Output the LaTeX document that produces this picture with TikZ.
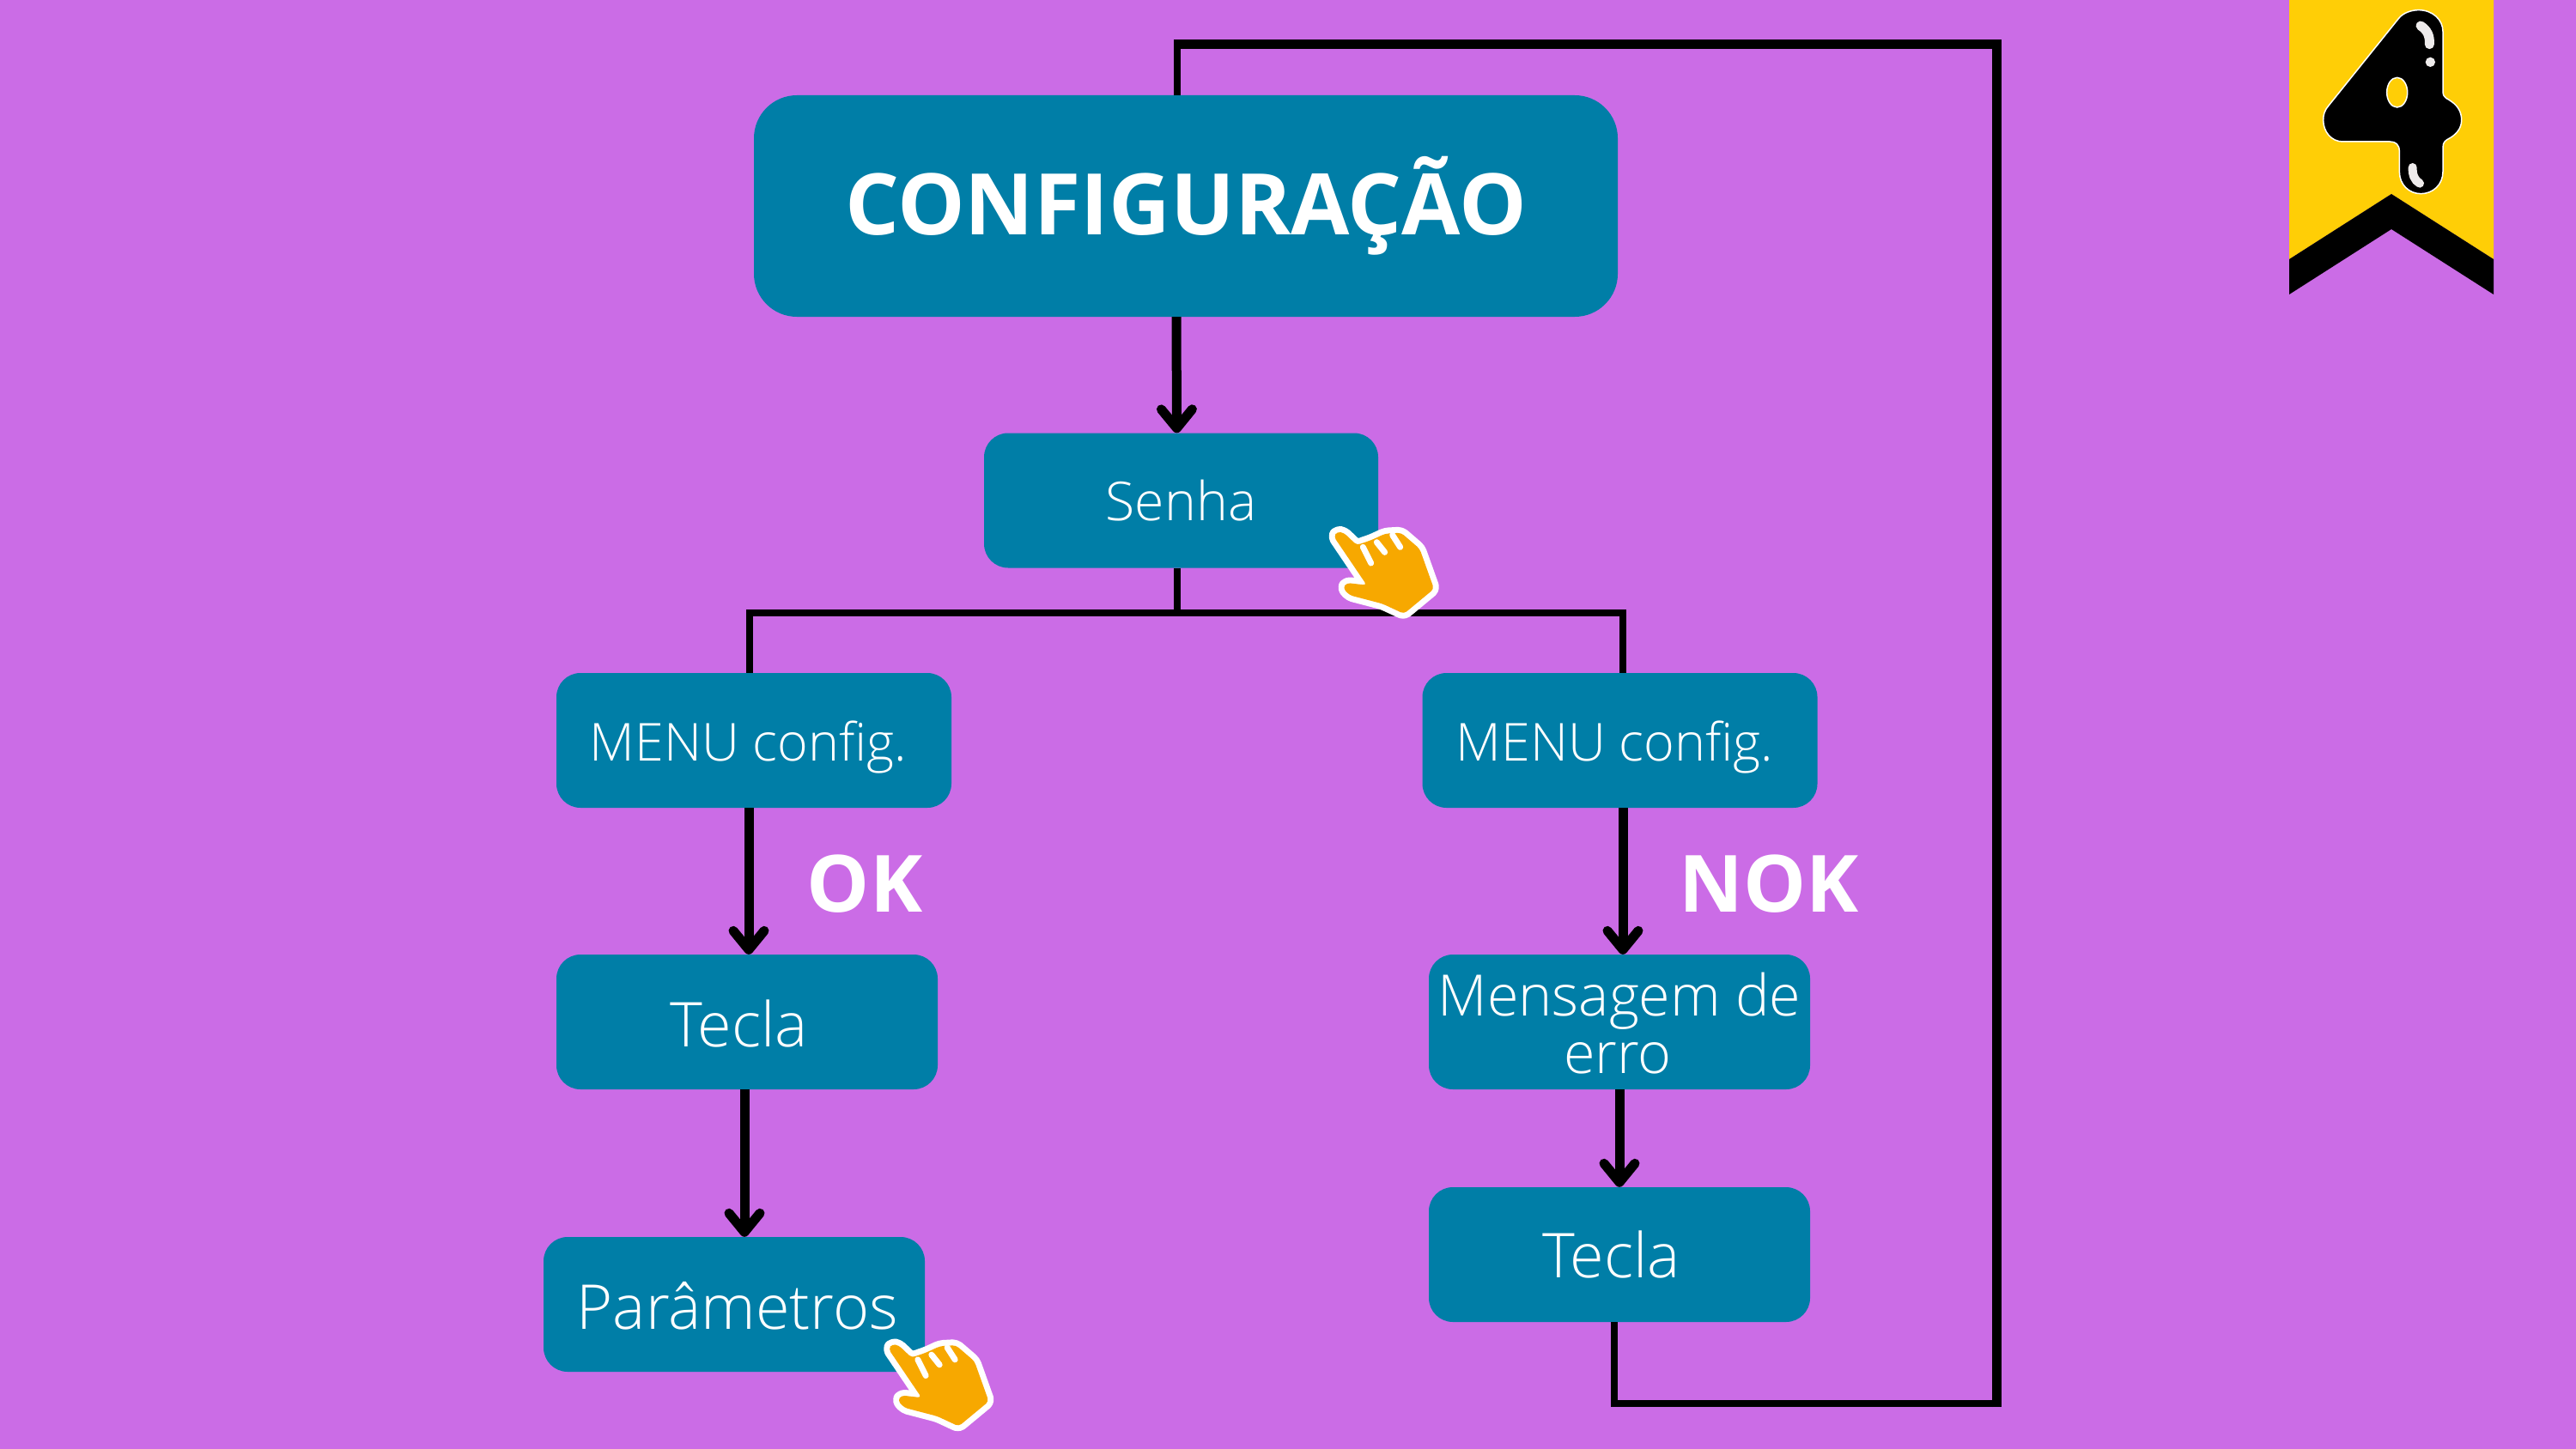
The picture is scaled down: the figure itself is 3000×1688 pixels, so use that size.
\documentclass[tikz,border=0pt]{standalone}
\usepackage{fontspec}
\setmainfont{Open Sans}
\newfontfamily\lightfont{Open Sans Light}
\usetikzlibrary{
  arrows.meta,
  calc,
  positioning,
}
\definecolor{bgpurple}{RGB}{203, 108, 230}
\definecolor{boxblue}{RGB}{0, 126, 167}
\definecolor{bannergold}{RGB}{255, 206, 6}
\definecolor{handorange}{RGB}{247, 168, 0}
\definecolor{shine}{RGB}{238, 235, 235}
\newcommand{\lowered}[2]{\raisebox{-#1}[\height][\depth]{#2}}
\tikzstyle{box} = [
  fill=boxblue,
  rounded corners=28pt,
  inner sep=0,
  minimum height=157pt,
  align=center,
  text=white,
  font=\lightfont\fontsize{61pt}{67pt}\selectfont,
]
\tikzstyle{bigtext} = [
  font=\lightfont\fontsize{72pt}{67pt}\selectfont,
]
\tikzstyle{titlebox} = [
  box,
  rounded corners=50pt,
  minimum width=1006pt,
  minimum height=258pt,
  font=\bfseries\fontsize{99pt}{110pt}\selectfont,
]
\tikzstyle{wire} = [
  line width=8pt,
  black,
]
\tikzstyle{heavywire} = [
  line width=11pt,
  black,
]
\tikzstyle{arrow} = [
  -{Straight Barb[round, length=22pt, width=36pt]},
  line width=11pt,
  black,
]
\tikzstyle{verdict} = [
  text=white,
  inner sep=0,
  font=\bfseries\fontsize{92pt}{92pt}\selectfont,
]
\tikzset{
  hand/.pic={
    \begin{scope}[scale=1/3]
      \path [fill=handorange, preaction={draw=white, line width=14pt, line join=round}, rounded corners=4pt]
        (160,135) -- (172,118) -- (195,122) -- (240,165) -- (290,148) -- (340,125)
        -- (395,122) -- (460,178) -- (510,318) -- (405,405) -- (330,370) -- (215,340)
        -- (192,315) -- (205,297) -- (275,305) -- cycle;
      \draw [white, line width=7pt, line cap=round] (262,172) -- (290,228);
      \draw [white, line width=7pt, line cap=round] (310,155) -- (338,190);
      \draw [white, line width=7pt, line cap=round] (365,130) -- (392,172);
    \end{scope}
  },
}

\begin{document}
\begin{tikzpicture}[x=1pt, y=-1pt]

        \fill [bgpurple] (0,0) rectangle (3000,1688);

        \node [titlebox] (config) at (1381,240) {CONFIGURAÇÃO};
        \node [box, font=\lightfont\fontsize{62.5pt}{67pt}\selectfont, minimum width=459pt] (senha) at (1375.5,583) {Senha};
        \node [box, minimum width=460pt] (menuok) at (878,862.5) {\lowered{8pt}{\kern-13pt MENU config.}};
        \node [box, minimum width=460pt] (menunok) at (1886.5,862.5) {\lowered{8pt}{\kern-12pt MENU config.}};
        \node [box, bigtext, minimum width=444pt] (teclaok) at (870,1190.5) {\lowered{2pt}{\kern-19pt Tecla}};
        \node [box, bigtext, minimum width=444pt] (params) at (855,1519.5) {\lowered{2pt}{\kern8pt Parâmetros}};
        \node [box, font=\lightfont\fontsize{66.5pt}{67pt}\selectfont, minimum width=444pt] (erro) at (1886,1190.5) {\lowered{2pt}{Mensagem de}\\\lowered{2pt}{\kern-4pt erro}};
        \node [box, bigtext, minimum width=444pt] (teclanok) at (1886,1461.5) {\kern-19pt Tecla};

        \node [verdict] (ok) at (1007,1030) {OK};
        \node [verdict] (nok) at (2060,1030) {NOK};

        \coordinate (split) at ([xshift=-5pt, yshift=-52pt]senha.south);
        \coordinate (loopbottom) at (2325.5,1635);
        \coordinate (looptop) at (2325.5,52);
        \coordinate (loopleft) at (1371,52);

        \draw [arrow] ([xshift=-11pt]config.south) -- ([xshift=-5pt]senha.north);
        \draw [wire] ([xshift=-5pt]senha.south) -- (split);
        \draw [wire] ([xshift=-5pt]menuok.north) |- (split);
        \draw [wire] ([xshift=3.5pt]menunok.north) |- (split);
        \draw [arrow] ([xshift=-6pt]menuok.south) -- ([xshift=2pt]teclaok.north);
        \draw [arrow] ([xshift=3.5pt]menunok.south) -- ([xshift=4pt]erro.north);
        \draw [arrow] ([xshift=-3pt]teclaok.south) -- ([xshift=12pt]params.north);
        \draw [arrow] (erro.south) -- (teclanok.north);
        \draw [wire] ([xshift=-6pt]teclanok.south) |- (loopbottom);
        \draw [heavywire] ([yshift=-4pt]loopbottom) -- (looptop) -- ([xshift=-4pt]loopleft);
        \draw [wire] ([xshift=-10pt]config.north) -- ([yshift=5.5pt]loopleft);

        \fill [bannergold] (2666,0) -- (2904,0) -- (2904,302) -- (2785,226) -- (2666,302) -- cycle;
        \fill [black] (2666,302) -- (2785,226) -- (2904,302) -- (2904,343) -- (2785,267) -- (2666,343) -- cycle;
        \begin{scope}[shift={(2620,0)}, scale=1/3]
          \draw [fill=black, draw=white, line width=1.5pt]
            (590,35) .. controls (640,35) and (675,70) .. (675,110) -- (675,320)
            .. controls (675,345) and (695,345) .. (705,355)
            .. controls (730,372) and (740,395) .. (740,420)
            .. controls (740,450) and (720,470) .. (700,482)
            .. controls (685,490) and (675,495) .. (675,515) -- (675,600)
            .. controls (675,645) and (640,677) .. (598,677)
            .. controls (556,677) and (523,645) .. (523,600) -- (523,530)
            .. controls (523,505) and (510,495) .. (490,495) -- (325,495)
            .. controls (285,495) and (257,460) .. (257,420)
            .. controls (257,400) and (262,385) .. (275,370) -- (520,65)
            .. controls (535,45) and (565,35) .. (590,35) -- cycle;
          \draw [fill=bannergold, draw=white, line width=1.5pt] (515,323) ellipse [x radius=36, y radius=52];
          \draw [shine, line width=11pt, line cap=round] (597,90) .. controls (620,105) and (630,125) .. (628,155);
          \fill [shine] (631,217) circle [radius=17];
          \draw [shine, line width=10pt, line cap=round] (569,585) .. controls (568,610) and (575,630) .. (594,641);
        \end{scope}

        \pic at (1500,580) {hand};
        \pic at (981.5,1526.5) {hand};
      \end{tikzpicture}
\end{document}
